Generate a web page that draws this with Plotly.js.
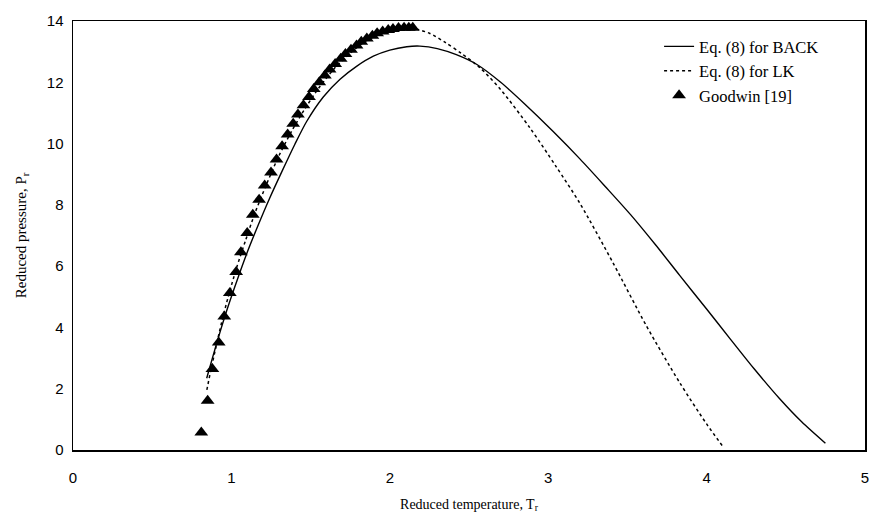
<!DOCTYPE html>
<html>
<head>
<meta charset="utf-8">
<script src="https://cdn.plot.ly/plotly-3.0.1.min.js"></script>
<style>html,body{margin:0;padding:0;background:#fff;}#chart{width:872px;height:518px;}</style>
</head>
<body>
<div id="chart"></div>
<script>
// Eq. (8) for BACK (solid)
const backT = [0.844,0.88,0.93,0.98,1.04,1.10,1.17,1.24,1.32,1.40,1.475,1.58,1.686,1.79,1.896,2.0,2.107,2.19,2.3,2.42,2.55,2.7,2.85,3.03,3.20,3.36,3.52,3.68,3.83,4.0,4.15,4.3,4.46,4.6,4.75];
const backP = [2.34,3.0,3.88,4.7,5.6,6.45,7.35,8.2,9.1,9.97,10.72,11.52,12.1,12.52,12.85,13.05,13.16,13.18,13.1,12.9,12.58,12.0,11.3,10.4,9.5,8.6,7.68,6.68,5.7,4.6,3.62,2.65,1.68,0.92,0.22];
// Eq. (8) for LK (dotted)
const lkT = [0.845,0.87,0.90,0.94,0.98,1.03,1.09,1.15,1.22,1.30,1.38,1.46,1.55,1.65,1.75,1.85,1.95,2.05,2.15,2.25,2.35,2.45,2.57,2.70,2.885,3.05,3.20,3.41,3.62,3.83,4.0,4.105];
const lkP = [1.96,2.6,3.3,4.2,5.0,5.9,6.85,7.75,8.65,9.6,10.4,11.1,11.8,12.45,12.95,13.35,13.6,13.72,13.75,13.6,13.3,12.95,12.47,11.76,10.51,9.25,8.05,6.1,4.05,2.2,0.85,0.1];
// Goodwin [19] (triangles)
const gwT = [0.81,0.85,0.88,0.92,0.955,0.99,1.03,1.06,1.10,1.135,1.175,1.21,1.25,1.285,1.32,1.355,1.39,1.42,1.455,1.49,1.52,1.555,1.59,1.62,1.655,1.69,1.72,1.755,1.79,1.82,1.855,1.89,1.92,1.955,1.99,2.02,2.055,2.09,2.12,2.145];
const gwP = [0.57,1.61,2.64,3.51,4.36,5.12,5.81,6.45,7.08,7.68,8.17,8.63,9.06,9.48,9.91,10.3,10.65,10.95,11.25,11.52,11.78,12.0,12.22,12.42,12.6,12.77,12.92,13.06,13.2,13.32,13.43,13.52,13.6,13.66,13.71,13.74,13.77,13.78,13.78,13.78];
const xTicks = [0,1,2,3,4,5];
const yTicks = [0,2,4,6,8,10,12,14];
const names = ['Eq. (8) for BACK','Eq. (8) for LK','Goodwin [19]'];

const traces = [
  {x: backT, y: backP, name: names[0], mode: 'lines', line: {color: '#000', width: 1.4, shape: 'spline', smoothing: 0.8}},
  {x: lkT, y: lkP, name: names[1], mode: 'lines', line: {color: '#000', width: 1.5, dash: 'dot', shape: 'spline', smoothing: 0.8}},
  {x: gwT, y: gwP, name: names[2], mode: 'markers', marker: {symbol: 'triangle-up', size: 12, color: '#000'}}
];

const layout = {
  width: 872, height: 518,
  margin: {l: 73, r: 7, t: 21, b: 68},
  paper_bgcolor: '#fff', plot_bgcolor: '#fff',
  showlegend: true,
  legend: {x: 0.74, y: 0.981, xanchor: 'left', yanchor: 'top', bgcolor: 'rgba(0,0,0,0)',
           font: {family: 'Liberation Serif', size: 16.5, color: '#000'}, tracegroupgap: 0, itemwidth: 30},
  xaxis: {range: [0,5], tickvals: xTicks, ticktext: xTicks.map(String), showgrid: false, zeroline: false,
          showline: true, mirror: true, linecolor: '#000', linewidth: 1.5, ticks: '',
          ticklabelstandoff: 13,
          tickfont: {family: 'Liberation Sans', size: 15, color: '#000'},
          title: {text: 'Reduced temperature, T<sub>r</sub>', standoff: 14,
                  font: {family: 'Liberation Serif', size: 14, color: '#000'}}},
  yaxis: {range: [0,14], tickvals: yTicks, ticktext: yTicks.map(String), showgrid: false, zeroline: false,
          showline: true, mirror: true, linecolor: '#000', linewidth: 1.5, ticks: '',
          ticklabelstandoff: 5,
          tickfont: {family: 'Liberation Sans', size: 15, color: '#000'},
          title: {text: 'Reduced pressure, P<sub>r</sub>', standoff: 16,
                  font: {family: 'Liberation Serif', size: 15, color: '#000'}}}
};
Plotly.newPlot('chart', traces, layout, {staticPlot: true});
</script>
</body>
</html>
